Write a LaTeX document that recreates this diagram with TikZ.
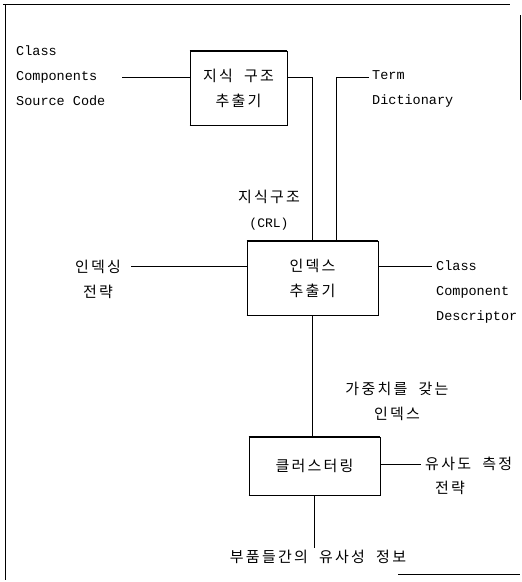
\documentclass[tikz,border=0pt]{standalone}
\usepackage{fontspec}
\setmonofont{Liberation Mono}
\newfontfamily\kr[LetterSpace=15,WordSpace=2]{Noto Sans CJK KR}
\begin{document}
\begin{tikzpicture}[x=1pt,y=-1pt]
\tikzstyle{every node}+=[inner sep=0pt]
\tikzstyle{procbox}=[draw, line width=0.7pt, align=center, font=\kr\fontsize{15}{25}\selectfont]
\tikzstyle{krtext}=[align=center, font=\kr\fontsize{15}{25}\selectfont]
\tikzstyle{entext}=[align=left, font=\ttfamily\fontsize{13.5}{25}\selectfont]
\tikzstyle{edge}=[line width=0.7pt]
\useasboundingbox (0,0) rectangle (522,582);
% frame
\draw [line width=0.6pt] (3,4) -- (510,4);
\draw [line width=0.6pt] (5,4) -- (5,580);
\draw [line width=0.6pt] (520,15) -- (520,100);
\draw [line width=0.6pt] (398,574) -- (520,574);
% boxes
\node [procbox, minimum width=97pt, minimum height=74pt] (extract) at (238.5,88) {지식 구조\\추출기};
\node [procbox, minimum width=131pt, minimum height=74pt] (indexer) at (312.5,278) {인덱스\\추출기};
\node [procbox, minimum width=131pt, minimum height=58pt] (cluster) at (314.5,466) {클러스터링};
\foreach \b in {extract,indexer,cluster}
  \draw [line width=1.6pt] (\b.north west) -- (\b.north east) (\b.south west) -- (\b.south east);
% texts
\node [entext, anchor=west] (source) at (16,76) {Class\\Components\\Source Code};
\node [entext, anchor=west] (term) at (372,89) {Term\\Dictionary};
\node [krtext] (strategy) at (98,279) {인덱싱\\전략};
\node [entext, anchor=west] (descr) at (436,292) {Class\\Component\\Descriptor};
\node [krtext] (crl) at (269,210) {지식구조\\{\ttfamily\fontsize{13}{25}\selectfont(CRL)}};
\node [krtext] (weighted) at (397,401) {가중치를 갖는\\인덱스};
\node [krtext, anchor=west] (simil) at (425,464) {유사도 측정};
\node [krtext] (simstr) at (450,488) {전략};
\node [krtext] (simout) at (318,557) {부품들간의 유사성 정보};
% connectors
\coordinate (srcin) at (122,77);
\draw [edge] (srcin) -- (srcin -| extract.west);
\coordinate (kbend) at (312,77);
\draw [edge] (extract.east |- kbend) -- (kbend) -- (kbend |- indexer.north);
\coordinate (tbend) at (336,77);
\coordinate (termin) at (369,77);
\draw [edge] (termin) -- (tbend) -- (tbend |- indexer.north);
\coordinate (strin) at (131,266);
\draw [edge] (strin) -- (strin -| indexer.west);
\coordinate (descout) at (432,266);
\draw [edge] (indexer.east |- descout) -- (descout);
\draw [edge] (indexer.south) -- (indexer.south |- cluster.north);
\coordinate (simin) at (421,464);
\draw [edge] (cluster.east |- simin) -- (simin);
\coordinate (simend) at (316,548);
\draw [edge] (cluster.south) -- (cluster.south |- simend);
\end{tikzpicture}
\end{document}
